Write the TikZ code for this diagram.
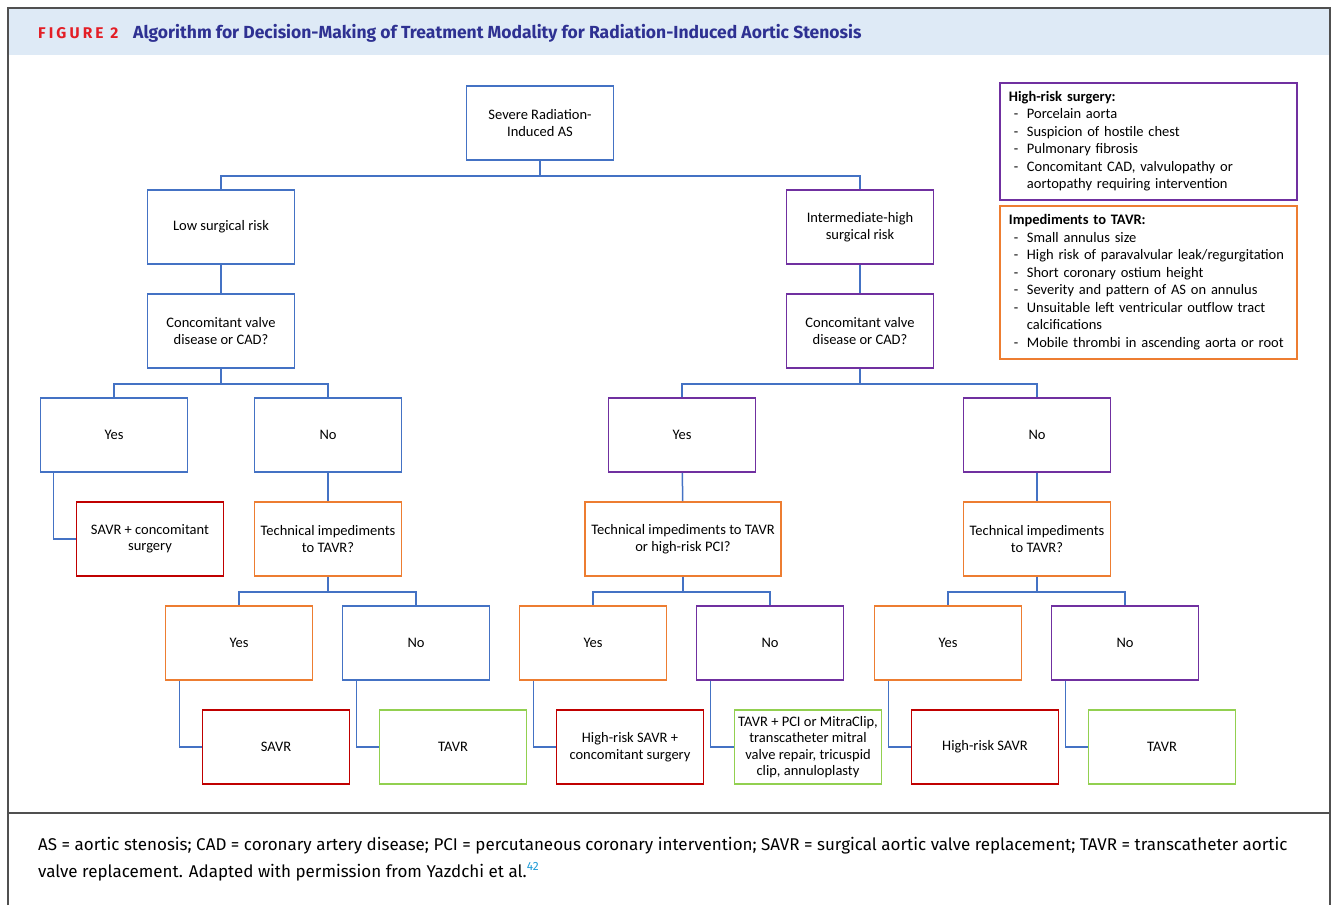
\documentclass[tikz,border=0pt]{standalone}
\usepackage{fontspec}
\setmainfont{Carlito}
\newfontfamily\headfont{Fira Sans}
\newfontfamily\capfont{Fira Sans}

\definecolor{cblue}{RGB}{68,114,196}
\definecolor{cpurple}{RGB}{112,48,160}
\definecolor{corange}{RGB}{237,125,49}
\definecolor{cred}{RGB}{192,0,0}
\definecolor{cgreen}{RGB}{146,208,80}
\definecolor{headblue}{RGB}{222,234,246}
\definecolor{figred}{RGB}{227,30,38}
\definecolor{titleblue}{RGB}{46,49,146}
\definecolor{framegray}{RGB}{80,80,80}
\definecolor{refblue}{RGB}{30,155,215}

\tikzset{
  box/.style={draw, line width=1.8, minimum width=147, minimum height=74,
    align=center, inner sep=2, font=\fontsize{14.5}{16.5}\selectfont},
  conn/.style={draw=cblue, line width=1.5},
  legend/.style={draw, line width=1.8, anchor=north west, minimum width=297,
    text width=279, inner xsep=9, inner ysep=4, align=left,
    font=\fontsize{14.5}{17.5}\selectfont}
}

\begin{document}
\begin{tikzpicture}[x=1pt,y=-1pt]

      \useasboundingbox (0,0) rectangle (1333,905);

      % frame and header
      \fill[headblue] (9,9) rectangle (1329,55);
      \draw[framegray, line width=1.2] (8,905) -- (8,8) -- (1330,8) -- (1330,905);
      \draw[framegray, line width=1.2] (8,813) -- (1330,813);
      \node[anchor=west, inner sep=0] (fig) at (38,33)
        {\headfont\bfseries\fontsize{15.5}{18}\selectfont\addfontfeature{LetterSpace=20}\color{figred}FIGURE 2};
      \node[anchor=west, inner sep=0] (title) at (133,33)
        {\headfont\bfseries\fontsize{17.5}{20}\selectfont\color{titleblue}Algorithm for Decision-Making of Treatment Modality for Radiation-Induced Aortic Stenosis};

      % tree nodes
      \begin{scope}[every node/.style={box}]
        \node[draw=cblue]   (sev)     at (540,123) {Severe Radiation-\\Induced AS};
        \node[draw=cblue]   (low)     at (221,227) {Low surgical risk};
        \node[draw=cpurple] (inter)   at (860,227) {Intermediate-high\\surgical risk};
        \node[draw=cblue]   (concL)   at (221,331) {Concomitant valve\\disease or CAD?};
        \node[draw=cpurple] (concR)   at (860,331) {Concomitant valve\\disease or CAD?};

        \node[draw=cblue]   (yesA)    at (114,435) {Yes};
        \node[draw=cblue]   (noA)     at (328,435) {No};
        \node[draw=cpurple] (yesB)    at (682,435) {Yes};
        \node[draw=cpurple] (noB)     at (1037,435) {No};

        \node[draw=cred]    (savrc)   at (150,539) {SAVR + concomitant\\surgery};
        \node[draw=corange] (techA)   at (328,539) {Technical impediments\\to TAVR?};
        \node[draw=corange, minimum width=196] (techB) at (683,539) {Technical impediments to TAVR\\or high-risk PCI?};
        \node[draw=corange] (techC)   at (1037,539) {Technical impediments\\to TAVR?};

        \node[draw=corange] (yesC)    at (239,643) {Yes};
        \node[draw=cblue]   (noC)     at (416,643) {No};
        \node[draw=corange] (yesD)    at (593,643) {Yes};
        \node[draw=cpurple] (noD)     at (770,643) {No};
        \node[draw=corange] (yesE)    at (948,643) {Yes};
        \node[draw=cpurple] (noE)     at (1125,643) {No};

        \node[draw=cred]    (savr)    at (276,747) {SAVR};
        \node[draw=cgreen]  (tavrA)   at (453,747) {TAVR};
        \node[draw=cred]    (hsavrc)  at (630,747) {High-risk SAVR +\\concomitant surgery};
        \node[draw=cgreen, inner sep=1] (tavrpci) at (808,747) {TAVR + PCI or MitraClip,\\transcatheter mitral\\valve repair, tricuspid\\clip, annuloplasty};
        \node[draw=cred]    (hsavr)   at (985,747) {High-risk SAVR};
        \node[draw=cgreen]  (tavrB)   at (1162,747) {TAVR};
      \end{scope}

      % connectors
      \begin{scope}[every path/.style={conn}]
        \draw (sev.south) -- ++(0,15) -| (low.north);
        \draw (sev.south) -- ++(0,15) -| (inter.north);
        \draw (low) -- (concL);
        \draw (inter) -- (concR);

        \draw (concL.south) -- ++(0,15) -| (yesA.north);
        \draw (concL.south) -- ++(0,15) -| (noA.north);
        \draw (concR.south) -- ++(0,15) -| (yesB.north);
        \draw (concR.south) -- ++(0,15) -| (noB.north);

        \draw ([xshift=14]yesA.south west) |- (savrc.west);
        \draw (noA) -- (techA);
        \draw (yesB) -- (techB);
        \draw (noB) -- (techC);

        \draw (techA.south) -- ++(0,15) -| (yesC.north);
        \draw (techA.south) -- ++(0,15) -| (noC.north);
        \draw (techB.south) -- ++(0,15) -| (yesD.north);
        \draw (techB.south) -- ++(0,15) -| (noD.north);
        \draw (techC.south) -- ++(0,15) -| (yesE.north);
        \draw (techC.south) -- ++(0,15) -| (noE.north);

        \draw ([xshift=15]yesC.south west) |- (savr.west);
        \draw ([xshift=15]noC.south west) |- (tavrA.west);
        \draw ([xshift=15]yesD.south west) |- (hsavrc.west);
        \draw ([xshift=15]noD.south west) |- (tavrpci.west);
        \draw ([xshift=15]yesE.south west) |- (hsavr.west);
        \draw ([xshift=15]noE.south west) |- (tavrB.west);
      \end{scope}

      % legend boxes
      \node[legend, draw=cpurple, minimum height=117] (hrs) at (999,82)
        {\textbf{High-risk surgery:}\\
         \makebox[18pt][l]{\hspace{5pt}-}Porcelain aorta\\
         \makebox[18pt][l]{\hspace{5pt}-}Suspicion of hostile chest\\
         \makebox[18pt][l]{\hspace{5pt}-}Pulmonary fibrosis\\
         \makebox[18pt][l]{\hspace{5pt}-}Concomitant CAD, valvulopathy or\\
         \hspace*{18pt}aortopathy requiring intervention};
      \node[legend, draw=corange, minimum height=153] (imp) at (999,205)
        {\textbf{Impediments to TAVR:}\\
         \makebox[18pt][l]{\hspace{5pt}-}Small annulus size\\
         \makebox[18pt][l]{\hspace{5pt}-}High risk of paravalvular leak/regurgitation\\
         \makebox[18pt][l]{\hspace{5pt}-}Short coronary ostium height\\
         \makebox[18pt][l]{\hspace{5pt}-}Severity and pattern of AS on annulus\\
         \makebox[18pt][l]{\hspace{5pt}-}Unsuitable left ventricular outflow tract\\
         \hspace*{18pt}calcifications\\
         \makebox[18pt][l]{\hspace{5pt}-}Mobile thrombi in ascending aorta or root};

      % caption
      \node[anchor=base west, inner sep=0] (capA) at (38,850)
        {\capfont\fontsize{17}{19}\selectfont AS = aortic stenosis; CAD = coronary artery disease; PCI = percutaneous coronary intervention; SAVR = surgical aortic valve replacement; TAVR = transcatheter aortic};
      \node[anchor=base west, inner sep=0] (capB) at (38,877)
        {\capfont\fontsize{17}{19}\selectfont valve replacement. Adapted with permission from Yazdchi et al.\textsuperscript{\color{refblue}42}};

    \end{tikzpicture}
\end{document}
